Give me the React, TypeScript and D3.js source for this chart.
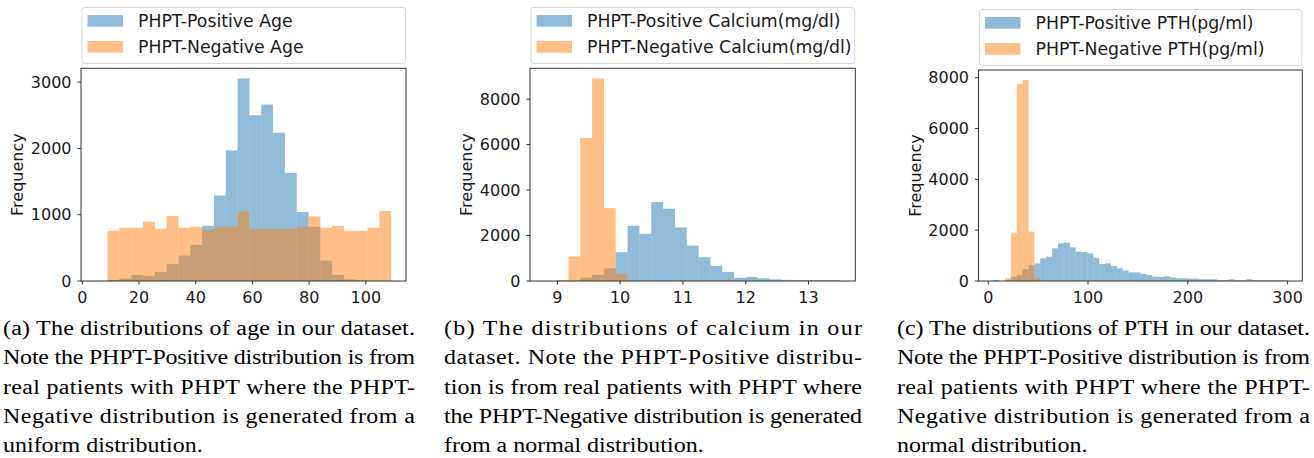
import React from 'react';
import * as d3 from 'd3';

// histogram counts per bin (pandas-style shared bins)
const ageBinStart = 4.75;
const ageBinWidth = 4.168;
const agePositive = [2, 15, 40, 91, 76, 136, 258, 384, 545, 833, 1288, 1970, 3056, 2500, 2662, 2237, 1631, 1040, 818, 308, 91, 25, 10, 0, 0];
const ageNegative = [0, 758, 803, 803, 894, 788, 980, 803, 818, 773, 818, 818, 1050, 788, 788, 788, 788, 818, 975, 803, 833, 758, 758, 803, 1056];

const caBinStart = 8.8;
const caBinWidth = 0.1884;
const caPositive = [0, 0, 10, 147, 265, 559, 1265, 2426, 2074, 3470, 3176, 2353, 1559, 1044, 662, 400, 140, 176, 120, 74, 50, 40, 40, 40, 40];
const caNegative = [0, 44, 1074, 6294, 8912, 3206, 309, 0, 0, 0, 0, 0, 0, 0, 0, 0, 0, 0, 0, 0, 0, 0, 0, 0, 0];

const pthBinStart = 5;
const pthBinWidth = 5.9;
const pthPositive = [40, 0, 20, 170, 236, 460, 620, 695, 892, 958, 1285, 1482, 1508, 1325, 1154, 1141, 1089, 910, 669, 696,
  590, 499, 407, 341, 341, 276, 236, 171, 157, 184, 144, 105, 105, 92, 92, 66, 66, 66, 30, 40,
  66, 30, 30, 66, 30, 30, 30, 30, 30, 30];
const pthNegative = [0, 0, 105, 1875, 7750, 7908, 1941, 105, 0, 0, 0, 0, 0, 0, 0, 0, 0, 0, 0, 0,
  0, 0, 0, 0, 0, 0, 0, 0, 0, 0, 0, 0, 0, 0, 0, 0, 0, 0, 0, 0,
  0, 0, 0, 0, 0, 0, 0, 0, 0, 0];

const ageXTicks = [0, 20, 40, 60, 80, 100];
const ageYTicks = [0, 1000, 2000, 3000];
const caXTicks = [9, 10, 11, 12, 13];
const caYTicks = [0, 2000, 4000, 6000, 8000];
const pthXTicks = [0, 100, 200, 300];
const pthYTicks = [0, 2000, 4000, 6000, 8000];

const ageLegend = ['PHPT-Positive Age', 'PHPT-Negative Age'];
const caLegend = ['PHPT-Positive Calcium(mg/dl)', 'PHPT-Negative Calcium(mg/dl)'];
const pthLegend = ['PHPT-Positive PTH(pg/ml)', 'PHPT-Negative PTH(pg/ml)'];

const captionA = [
  '(a) The distributions of age in our dataset.',
  'Note the PHPT-Positive distribution is from',
  'real patients with PHPT where the PHPT-',
  'Negative distribution is generated from a',
  'uniform distribution.',
];
const captionB = [
  '(b) The distributions of calcium in our',
  'dataset. Note the PHPT-Positive distribu-',
  'tion is from real patients with PHPT where',
  'the PHPT-Negative distribution is generated',
  'from a normal distribution.',
];
const captionC = [
  '(c) The distributions of PTH in our dataset.',
  'Note the PHPT-Positive distribution is from',
  'real patients with PHPT where the PHPT-',
  'Negative distribution is generated from a',
  'normal distribution.',
];

const BLUE = '#1f77b4';
const ORANGE = '#ff7f0e';
const SANS = '"DejaVu Sans", sans-serif';
const SERIF = '"Liberation Serif", "Times New Roman", serif';

const Panel = ({ plot, legend, binStart, binWidth, pos, neg, xTicks, yTicks, labels }: any) => {
  const n = pos.length;
  const binEnd = binStart + binWidth * n;
  const pad = (binEnd - binStart) * 0.05;
  const x = d3.scaleLinear().domain([binStart - pad, binEnd + pad]).range([plot.x0, plot.x1]);
  const yMax = (d3.max([...pos, ...neg]) as number) * 1.05;
  const y = d3.scaleLinear().domain([0, yMax]).range([plot.y1, plot.y0]);

  const bars = (vals: number[], color: string) =>
    vals.map((v, i) =>
      v > 0 ? (
        <rect
          key={i}
          x={x(binStart + i * binWidth)}
          y={y(v)}
          width={x(binStart + (i + 1) * binWidth) - x(binStart + i * binWidth)}
          height={y(0) - y(v)}
          fill={color}
          fillOpacity={0.5}
        />
      ) : null
    );

  const lw = legend.x1 - legend.x0;
  return (
    <g>
      {/* legend sits above the axes, expanded to the axes width */}
      <rect x={legend.x0 + 0.5} y={legend.y0 + 0.5} width={lw - 1} height={legend.y1 - legend.y0 - 1}
        rx={3} fill="#fff" stroke="#d6d6d6" strokeWidth={1} />
      {labels.map((t: string, i: number) => (
        <g key={t}>
          <rect x={legend.x0 + 6} y={legend.y0 + 8 + i * 26} width={35.5} height={11.7}
            fill={i === 0 ? BLUE : ORANGE} fillOpacity={0.5} />
          <text x={legend.x0 + 56.5} y={legend.y0 + 20.3 + i * 25.6}
            fontFamily={SANS} fontSize={17.3} fill="#1a1a1a">{t}</text>
        </g>
      ))}

      <g>{bars(pos, BLUE)}</g>
      <g>{bars(neg, ORANGE)}</g>

      <rect x={plot.x0} y={plot.y0} width={plot.x1 - plot.x0} height={plot.y1 - plot.y0}
        fill="none" stroke="#333" strokeWidth={1} />

      {yTicks.map((t: number) => (
        <g key={'y' + t}>
          <line x1={plot.x0 - 3.5} x2={plot.x0} y1={y(t)} y2={y(t)} stroke="#333" />
          <text x={plot.x0 - 9.5} y={y(t)} dy="0.36em" textAnchor="end"
            fontFamily={SANS} fontSize={16} fill="#1a1a1a">{t}</text>
        </g>
      ))}
      {xTicks.map((t: number) => (
        <g key={'x' + t}>
          <line x1={x(t)} x2={x(t)} y1={plot.y1} y2={plot.y1 + 3.5} stroke="#333" />
          <text x={x(t)} y={plot.y1 + 22.3} textAnchor="middle"
            fontFamily={SANS} fontSize={16} fill="#1a1a1a">{t}</text>
        </g>
      ))}
      <text
        transform={`translate(${plot.x0 - 58},${(plot.y0 + plot.y1) / 2}) rotate(-90)`}
        textAnchor="middle"
        fontFamily={SANS}
        fontSize={16}
        fill="#1a1a1a"
      >
        Frequency
      </text>
    </g>
  );
};

const Caption = ({ lines, x0, x1, top }: any) => {
  const csx = 1.17; // caption glyphs are a little wide in the source
  return (
    <g>
      {lines.map((l: string, i: number) => {
        const last = i === lines.length - 1;
        return (
          <text
            key={i}
            transform={`translate(${x0},${top + i * 29.3}) scale(${csx},1)`}
            fontFamily={SERIF}
            fontSize={20.5}
            fill="#000"
            textLength={last ? undefined : (x1 - x0) / csx}
            lengthAdjust={last ? undefined : 'spacing'}
          >
            {l}
          </text>
        );
      })}
    </g>
  );
};

export default function App() {
  return (
    <svg width={1314} height={458} style={{ position: 'absolute', left: 0, top: 0, background: '#fff' }}>
      <rect width={1314} height={458} fill="#fff" />
      <Panel
        plot={{ x0: 81, x1: 406, y0: 68.3, y1: 281 }}
        legend={{ x0: 81.5, x1: 406, y0: 7, y1: 64 }}
        binStart={ageBinStart} binWidth={ageBinWidth}
        pos={agePositive} neg={ageNegative}
        xTicks={ageXTicks} yTicks={ageYTicks} labels={ageLegend}
      />
      <Panel
        plot={{ x0: 530, x1: 855.3, y0: 68.3, y1: 281 }}
        legend={{ x0: 530.5, x1: 855.3, y0: 7, y1: 64 }}
        binStart={caBinStart} binWidth={caBinWidth}
        pos={caPositive} neg={caNegative}
        xTicks={caXTicks} yTicks={caYTicks} labels={caLegend}
      />
      <Panel
        plot={{ x0: 978.5, x1: 1302.3, y0: 70, y1: 281 }}
        legend={{ x0: 979, x1: 1302.3, y0: 9, y1: 66 }}
        binStart={pthBinStart} binWidth={pthBinWidth}
        pos={pthPositive} neg={pthNegative}
        xTicks={pthXTicks} yTicks={pthYTicks} labels={pthLegend}
      />
      <Caption lines={captionA} x0={3} x1={415} top={335} />
      <Caption lines={captionB} x0={444} x1={862} top={335} />
      <Caption lines={captionC} x0={897} x1={1310} top={335} />
    </svg>
  );
}
